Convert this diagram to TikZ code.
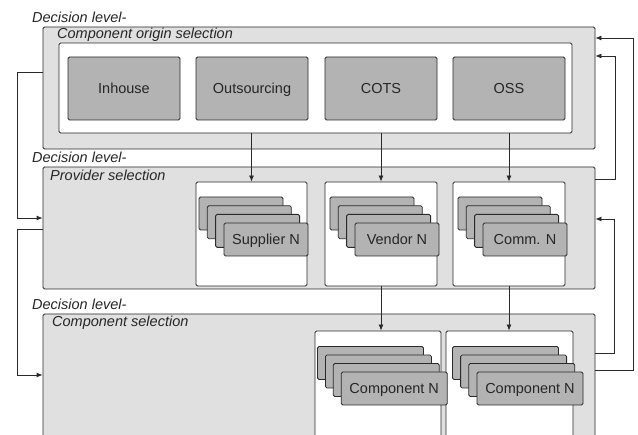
\documentclass[tikz,border=0pt]{standalone}
\usepackage{fontspec}
\setmainfont{Liberation Sans}
\usetikzlibrary{arrows.meta,calc}
\definecolor{panelgray}{HTML}{E0E0E0}
\definecolor{boxgray}{HTML}{B3B3B3}
\definecolor{linegray}{HTML}{2A2A2A}
\begin{document}
\begin{tikzpicture}[x=1pt,y=-1pt,
  panel/.style={draw=linegray, fill=panelgray, rounded corners=1.5pt, line width=0.8pt, inner sep=0pt, minimum width=552pt, minimum height=122pt},
  whitebox/.style={draw=linegray, fill=white, rounded corners=1.5pt, line width=0.8pt, inner sep=0pt},
  graybox/.style={draw=linegray, fill=boxgray, rounded corners=1.5pt, line width=0.8pt, inner sep=0pt, minimum width=112pt, minimum height=63pt, font=\fontsize{14.5}{16}\selectfont, text=black!85, text height=10.5pt, text depth=-1pt},
  card/.style={draw=linegray, fill=boxgray, rounded corners=1.5pt, line width=0.8pt, inner sep=0pt, minimum width=84pt, minimum height=33pt, font=\fontsize{14.5}{16}\selectfont, text=black!85, text height=10.5pt, text depth=0pt},
  ccard/.style={card, minimum width=106pt},
  lvl/.style={font=\fontsize{14.5}{16}\selectfont\itshape, inner sep=0pt, anchor=base west, text=black!85},
  arr/.style={draw=linegray, line width=0.8pt, -{Latex[length=6pt,width=5pt]}}]
\clip (0,0) rectangle (638,435);
\useasboundingbox (0,0) rectangle (638,435);

% top level
\node[panel] (top) at (319,88) {};
\node[whitebox, minimum width=513pt, minimum height=90pt] (inner) at (315.5,88) {};
\node[graybox] (inhouse) at (124,88.5) {Inhouse};
\node[graybox] (outs) at (252,88.5) {Outsourcing};
\node[graybox] (cots) at (381,88.5) {COTS};
\node[graybox] (oss) at (509,88.5) {OSS};
\node[lvl] (dl1) at (32,22.5) {Decision level-};
\node[lvl] (t1) at (57,39) {Component origin selection};

% middle level
\node[panel] (mid) at (319,228) {};
\node[lvl] (dl2) at (32,163) {Decision level-};
\node[lvl] (t2) at (50,180.5) {Provider selection};
\node[whitebox, minimum width=111pt, minimum height=104pt] (supbox) at (251.5,234) {};
\node[whitebox, minimum width=112pt, minimum height=104pt] (vendbox) at (381,234) {};
\node[whitebox, minimum width=112pt, minimum height=104pt] (commbox) at (509,234) {};

\node[card] (s1) at (241,213.5) {};
\node[card] (s2) at (249.3,222.2) {};
\node[card] (s3) at (257.6,230.9) {};
\node[card] (s4) at (266,239.5) {Supplier N};

\node[card] (v1) at (372,213.5) {};
\node[card] (v2) at (380.3,222.2) {};
\node[card] (v3) at (388.6,230.9) {};
\node[card] (v4) at (397,239.5) {Vendor N};

\node[card] (c1) at (500,213.5) {};
\node[card] (c2) at (508.3,222.2) {};
\node[card] (c3) at (516.6,230.9) {};
\node[card] (c4) at (525,239.5) {Comm. N};

% bottom level
\node[panel, minimum height=140pt] (bot) at (319,384) {};
\node[lvl] (dl3) at (32,310) {Decision level-};
\node[lvl] (t3) at (52,327) {Component selection};
\node[whitebox, minimum width=126pt, minimum height=138pt] (cbox1) at (378,400) {};
\node[whitebox, minimum width=127pt, minimum height=138pt] (cbox2) at (509.5,400) {};

\node[ccard] (a1) at (370.5,363) {};
\node[ccard] (a2) at (378.4,371.5) {};
\node[ccard] (a3) at (386.3,380) {};
\node[ccard] (a4) at (394.2,388.5) {Component N};

\node[ccard] (b1) at (505.5,363) {};
\node[ccard] (b2) at (513.6,371.5) {};
\node[ccard] (b3) at (521.8,380) {};
\node[ccard] (b4) at (530,388.5) {Component N};

% vertical connectors
\draw[arr] (inner.south -| supbox.north) -- (supbox.north);
\draw[arr] (inner.south -| vendbox.north) -- (vendbox.north);
\draw[arr] (inner.south -| commbox.north) -- (commbox.north);
\draw[arr] (vendbox.south) -- (vendbox.south |- cbox1.north);
\draw[arr] (commbox.south) -- (commbox.south |- cbox2.north);

% left connectors
\draw[arr] (top.west |- 0,72) -- (17,72) |- (mid.west |- 0,218);
\draw[arr] (mid.west |- 0,229) -- (17,229) |- (bot.west |- 0,375);

% right connectors
\draw[arr] (bot.east |- 0,370) -- (633,370) |- (top.east |- 0,38);
\draw[arr] (bot.east |- 0,353) -- (614,353) |- (mid.east |- 0,219);
\draw[arr] (mid.east |- 0,179) -- (615,179) |- (top.east |- 0,56);
\end{tikzpicture}
\end{document}
